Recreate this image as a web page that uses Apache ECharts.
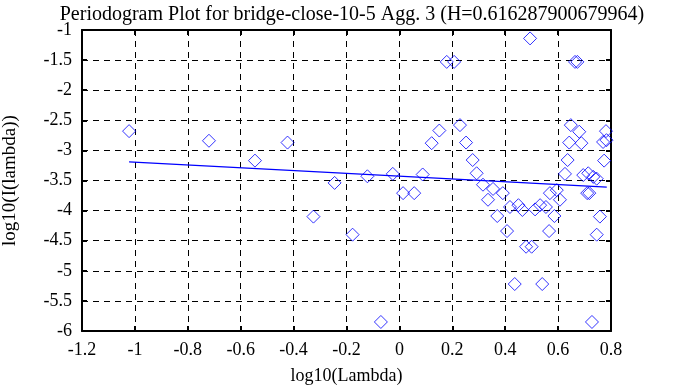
<!DOCTYPE html>
<html>
<head>
<meta charset="utf-8">
<script src="https://cdn.jsdelivr.net/npm/echarts@6/dist/echarts.min.js"></script>
<style>html,body{margin:0;padding:0;background:#fff;}#c{width:688px;height:387px;}</style>
</head>
<body>
<div id="c"></div>
<script>
const titleText = 'Periodogram Plot for bridge-close-10-5 Agg. 3 (H=0.616287900679964)';
const xName = 'log10(Lambda)';
const yName = 'log10(I(lambda))';
const xTicks = {min: -1.2, max: 0.8, interval: 0.2};
const yTicks = {min: -6, max: -1, interval: 0.5};
const logLambda = [-1.022,-0.720,-0.546,-0.423,-0.325,-0.245,-0.177,-0.121,-0.070,-0.025,0.014,0.056,0.088,0.122,0.151,0.179,0.207,0.229,0.252,0.277,0.292,0.316,0.335,0.354,0.370,0.391,0.407,0.418,0.436,0.450,0.465,0.479,0.494,0.500,0.513,0.532,0.540,0.554,0.566,0.569,0.586,0.595,0.607,0.626,0.636,0.642,0.648,0.664,0.673,0.680,0.688,0.695,0.710,0.714,0.718,0.728,0.733,0.746,0.746,0.758,0.770,0.774,0.781,0.783];
const logI = [-2.68,-2.84,-3.17,-2.87,-4.10,-3.54,-4.40,-3.43,-5.85,-3.39,-3.71,-3.71,-3.40,-2.88,-2.67,-1.53,-1.53,-2.58,-2.87,-3.16,-3.38,-3.57,-3.82,-3.64,-4.09,-3.71,-4.34,-3.94,-5.22,-3.91,-3.99,-4.60,-1.14,-4.60,-3.98,-3.91,-5.22,-3.94,-4.34,-3.71,-4.09,-3.66,-3.82,-3.39,-3.16,-2.87,-2.58,-1.53,-1.53,-2.69,-2.88,-3.41,-3.71,-3.38,-3.71,-5.85,-3.44,-4.40,-3.47,-4.10,-2.86,-3.17,-2.68,-2.83];
const fitX = [-1.022, 0.784];
const fitY = [-3.19, -3.61];

const points = logLambda.map((x, i) => [x, logI[i]]);
const fitLine = fitX.map((x, i) => [x, fitY[i]]);
const font = 'Liberation Serif';
const fmt = v => String(Math.round(v * 10) / 10);
const gridDash = {show: true, lineStyle: {color: '#000', type: [6, 5], width: 1}};

const chart = echarts.init(document.getElementById('c'));
chart.setOption({
  animation: false,
  backgroundColor: '#fff',
  title: {text: titleText, left: 347, top: 0, textAlign: 'center',
    textStyle: {fontFamily: font, fontSize: 20, fontWeight: 'normal', color: '#000'}},
  grid: {left: 82, right: 77, top: 30, bottom: 56, show: false, containLabel: false, outerBoundsMode: 'none'},
  xAxis: [{
    type: 'value', position: 'bottom', min: xTicks.min, max: xTicks.max, interval: xTicks.interval,
    name: xName, nameLocation: 'middle', nameGap: 36,
    nameTextStyle: {fontFamily: font, fontSize: 18, color: '#000'},
    axisLine: {show: true, onZero: false, lineStyle: {color: '#000', width: 2}},
    axisTick: {show: true, inside: true, length: 5, lineStyle: {color: '#000', width: 2}},
    axisLabel: {formatter: fmt, fontFamily: font, fontSize: 18, color: '#000', margin: 10},
    splitLine: gridDash
  }, {
    type: 'value', position: 'top', min: xTicks.min, max: xTicks.max, interval: xTicks.interval,
    axisLine: {show: true, onZero: false, lineStyle: {color: '#000', width: 2}},
    axisTick: {show: true, inside: true, length: 5, lineStyle: {color: '#000', width: 2}},
    axisLabel: {show: false}, splitLine: {show: false}
  }],
  yAxis: [{
    type: 'value', position: 'left', min: yTicks.min, max: yTicks.max, interval: yTicks.interval,
    name: yName, nameLocation: 'middle', nameGap: 62, nameRotate: 90,
    nameTextStyle: {fontFamily: font, fontSize: 19, color: '#000'},
    axisLine: {show: true, onZero: false, lineStyle: {color: '#000', width: 2}},
    axisTick: {show: true, inside: true, length: 5, lineStyle: {color: '#000', width: 2}},
    axisLabel: {formatter: fmt, fontFamily: font, fontSize: 18, color: '#000', margin: 10},
    splitLine: gridDash
  }, {
    type: 'value', position: 'right', min: yTicks.min, max: yTicks.max, interval: yTicks.interval,
    axisLine: {show: true, onZero: false, lineStyle: {color: '#000', width: 2}},
    axisTick: {show: true, inside: true, length: 5, lineStyle: {color: '#000', width: 2}},
    axisLabel: {show: false}, splitLine: {show: false}
  }],
  series: [{
    type: 'scatter', data: points, symbol: 'diamond', symbolSize: [13, 13],
    itemStyle: {color: 'rgba(0,0,0,0)', borderColor: '#0000ff', borderWidth: 1}
  }, {
    type: 'line', data: fitLine, symbol: 'none',
    lineStyle: {color: '#0000ff', width: 1.2}
  }]
});
</script>
</body>
</html>
